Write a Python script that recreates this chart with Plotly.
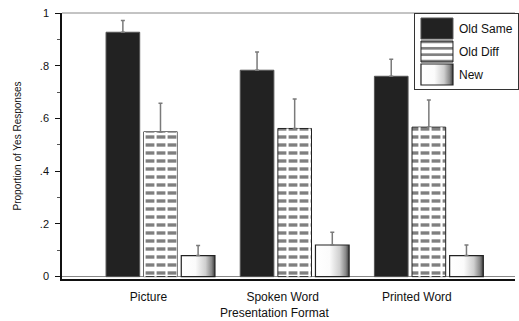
import plotly.graph_objects as go

# Proportion of "yes" responses by presentation format
formats = ["Picture", "Spoken Word", "Printed Word"]

old_same = [0.927, 0.783, 0.760]
old_same_err = [0.045, 0.069, 0.065]

old_diff = [0.549, 0.562, 0.567]
old_diff_err = [0.109, 0.112, 0.103]

new_items = [0.080, 0.120, 0.080]
new_items_err = [0.038, 0.048, 0.040]

y_ticks = [0, 0.2, 0.4, 0.6, 0.8, 1.0]
y_ticktext = ["0", ".2", ".4", ".6", ".8", "1"]

FONT = "Liberation Sans, Arial, sans-serif"
ERR = dict(type="data", symmetric=False, color="#7a7a7a", thickness=1.5, width=2)


def upper(err):
    e = dict(ERR)
    e["array"] = err
    e["arrayminus"] = [0] * len(err)
    return e


fig = go.Figure()

fig.add_bar(
    x=formats, y=old_same, name="Old Same", offsetgroup="same", legendgroup="a",
    marker=dict(color="#222222", line=dict(color="#555555", width=1)),
    error_y=upper(old_same_err),
)
fig.add_bar(
    x=formats, y=old_diff, name="Old Diff", offsetgroup="diff", legendgroup="b",
    marker=dict(color="white", line=dict(color="#222222", width=1),
                pattern=dict(shape="-", fgcolor="black", bgcolor="white",
                             size=8, solidity=0.42)),
    error_y=upper(old_diff_err),
)
# white vertical strokes over the horizontal lines break them into dashes
fig.add_bar(
    x=formats, y=old_diff, name="Old Diff", offsetgroup="diff", legendgroup="b",
    showlegend=False, hoverinfo="skip",
    marker=dict(color="rgba(0,0,0,0)", line=dict(width=0),
                pattern=dict(shape="|", fgcolor="white",
                             bgcolor="rgba(0,0,0,0)", fillmode="replace",
                             size=11, solidity=0.2)),
)
fig.add_bar(
    x=formats, y=new_items, name="New", offsetgroup="new", legendgroup="c",
    marker=dict(color="#dddddd", line=dict(color="#222222", width=1.2)),
    error_y=upper(new_items_err),
)

fig.update_layout(
    width=519, height=321,
    margin=dict(l=62, r=0, t=13, b=42),
    paper_bgcolor="white", plot_bgcolor="white",
    font=dict(family=FONT, size=12, color="#111111"),
    barmode="group", bargap=0.159, bargroupgap=0.105,
    showlegend=True,
    legend=dict(
        x=0.777, y=1, xanchor="left", yanchor="top",
        bgcolor="white", bordercolor="#333333", borderwidth=1,
        font=dict(family=FONT, size=12, color="#111111"),
        traceorder="grouped", tracegroupgap=4, itemwidth=34,
    ),
    shapes=[dict(type="line", xref="paper", yref="paper", x0=0, x1=1, y0=1, y1=1,
                 line=dict(color="#888888", width=1))],
    annotations=[dict(text="Presentation Format", xref="paper", yref="paper",
                      x=0.468, y=-0.128, xanchor="center", yanchor="middle",
                      showarrow=False, font=dict(family=FONT, size=12, color="#111111"))],
)

fig.update_xaxes(
    type="category", range=[-0.734, 2.642],
    showline=True, linecolor="#111111", linewidth=2,
    ticks="", showgrid=False, ticklabelstandoff=6, ticklabelshift=-12,
    tickfont=dict(family=FONT, size=12, color="#111111"),
)
fig.update_yaxes(
    range=[-0.009, 1.0],
    tickmode="array", tickvals=y_ticks, ticktext=y_ticktext,
    showline=True, linecolor="#111111", linewidth=1.5,
    ticks="outside", ticklen=5, tickcolor="#111111",
    minor=dict(tickmode="array", tickvals=[0.1, 0.3, 0.5, 0.7, 0.9],
               ticks="outside", ticklen=3, tickcolor="#555555"),
    showgrid=False, zeroline=True, zerolinecolor="#888888", zerolinewidth=1,
    ticklabelstandoff=4,
    tickfont=dict(family=FONT, size=11, color="#111111"),
    title=dict(text="Proportion of Yes Responses", standoff=16,
               font=dict(family=FONT, size=10, color="#111111")),
)

post = """
var gd = document.getElementById('{plot_id}');
function shadeBars() {
  var svg = gd.querySelector('svg.main-svg');
  if (!svg) return;
  var defs = svg.querySelector('defs');
  var ns = 'http://www.w3.org/2000/svg';
  if (!document.getElementById('newgrad')) {
    var g = document.createElementNS(ns, 'linearGradient');
    g.setAttribute('id', 'newgrad');
    g.setAttribute('x1', '0'); g.setAttribute('x2', '1');
    g.setAttribute('y1', '0'); g.setAttribute('y2', '0');
    [['0', '#ffffff'], ['0.42', '#fbfbfb'], ['0.72', '#cfcfcf'],
     ['0.9', '#888888'], ['1', '#3c3c3c']].forEach(function (s) {
      var st = document.createElementNS(ns, 'stop');
      st.setAttribute('offset', s[0]);
      st.setAttribute('stop-color', s[1]);
      g.appendChild(st);
    });
    defs.appendChild(g);
  }
  var traces = gd.querySelectorAll('.barlayer .trace');
  if (traces.length > 3) {
    traces[3].querySelectorAll('.point path').forEach(function (p) {
      p.style.fill = 'url(#newgrad)';
    });
  }
  gd.querySelectorAll('.legend .traces').forEach(function (t) {
    var txt = t.querySelector('.legendtext');
    t.querySelectorAll('.legendpoints path').forEach(function (p) {
      p.setAttribute('d', 'M16,10.5H-16V-10.5H16Z');
      if (txt && txt.textContent === 'New') p.style.fill = 'url(#newgrad)';
    });
  });
}
gd.on('plotly_afterplot', shadeBars);
shadeBars();
"""

fig.write_html("out.html", post_script=post)
